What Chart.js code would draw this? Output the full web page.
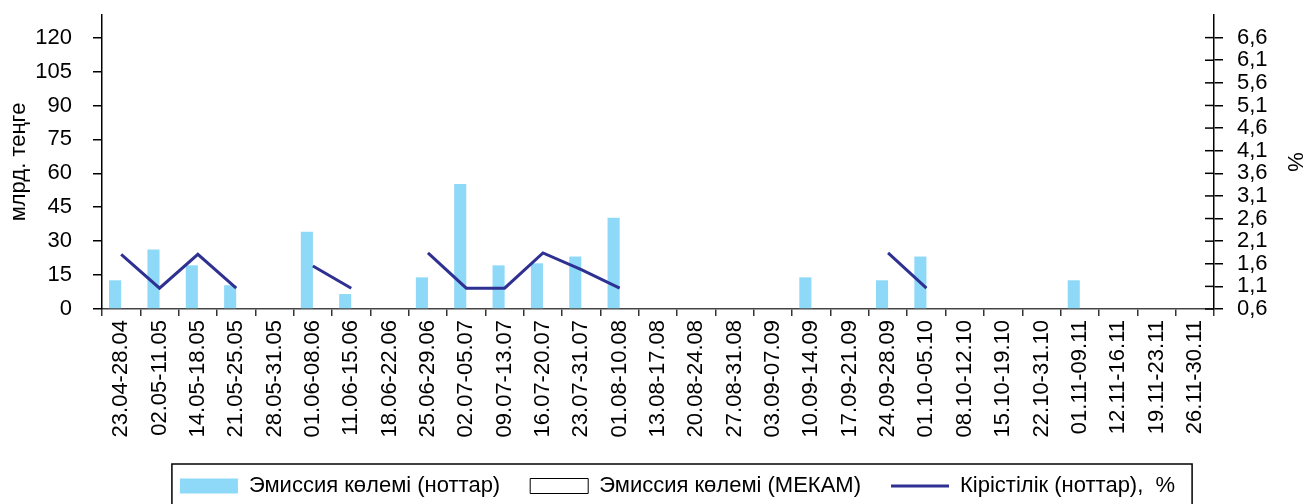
<!DOCTYPE html>
<html>
<head>
<meta charset="utf-8">
<script src="https://cdn.jsdelivr.net/npm/chart.js@4.4.0/dist/chart.umd.min.js"></script>
<style>
  html, body { margin: 0; padding: 0; background: #fff; }
  #wrap { width: 1307px; height: 504px; position: relative; }
</style>
</head>
<body>
<div id="wrap"><canvas id="emissionChart"></canvas></div>
<script>
// апталар
const categories = [
    '23.04-28.04', '02.05-11.05', '14.05-18.05', '21.05-25.05', '28.05-31.05',
    '01.06-08.06', '11.06-15.06', '18.06-22.06', '25.06-29.06', '02.07-05.07',
    '09.07-13.07', '16.07-20.07', '23.07-31.07', '01.08-10.08', '13.08-17.08',
    '20.08-24.08', '27.08-31.08', '03.09-07.09', '10.09-14.09', '17.09-21.09',
    '24.09-28.09', '01.10-05.10', '08.10-12.10', '15.10-19.10', '22.10-31.10',
    '01.11-09.11', '12.11-16.11', '19.11-23.11', '26.11-30.11'
];

// эмиссия көлемі, млрд. теңге
const notesVolume = [
    12.7, 26.3, 19.3, 10.5, null, 34.2, 6.6, null, 14.0, 55.3,
    19.3, 20.2, 23.2, 40.4, null, null, null, null, 14.0, null,
    12.7, 23.2, null, null, null, 12.7, null, null, null
];
const mekamVolume = [
    null, null, null, null, null, null, null, null, null, null,
    null, null, null, null, null, null, null, null, null, null,
    null, null, null, null, null, null, null, null, null
];

// кірістілік, %
const notesYield = [
    1.81, 1.06, 1.81, 1.06, null, 1.55, 1.06, null, 1.84, 1.06,
    1.06, 1.84, 1.47, 1.06, null, null, null, null, null, null,
    1.84, 1.06, null, null, null, null, null, null, null
];

const leftTicks = [0, 15, 30, 45, 60, 75, 90, 105, 120];
const rightTicks = [0.6, 1.1, 1.6, 2.1, 2.6, 3.1, 3.6, 4.1, 4.6, 5.1, 5.6, 6.1, 6.6];

Chart.defaults.font.family = '"Liberation Sans", Arial, sans-serif';
Chart.defaults.font.size = 22;
Chart.defaults.color = '#000';

// оң осьтің ішкі штрихтары және легенда жақтауы
const frameAndTicks = {
    id: 'frameAndTicks',
    afterLayout(chart) {
        // легенданы сәл оңға және төмен жылжыту
        const lg = chart.legend;
        lg.left += 24;
        lg.right += 24;
        lg.top += 3;
        lg.bottom += 3;
    },
    afterDraw(chart) {
        const ctx = chart.ctx;
        const y1 = chart.scales.y1;
        ctx.save();
        ctx.strokeStyle = '#000';
        ctx.lineWidth = 1.5;
        y1.ticks.forEach(t => {
            const py = y1.getPixelForValue(t.value);
            ctx.beginPath();
            ctx.moveTo(y1.left - 9, py);
            ctx.lineTo(y1.left, py);
            ctx.stroke();
        });
        const boxes = chart.legend.legendHitBoxes;
        if (boxes && boxes.length) {
            const first = boxes[0];
            const last = boxes[boxes.length - 1];
            const x0 = first.left - 8;
            const x1 = last.left + last.width + 17;
            const top = first.top - 11;
            ctx.strokeRect(x0, top, x1 - x0, chart.height - top + 5);
        }
        ctx.restore();
    }
};

// осьтің ені мен жоғарғы шегін бекіту
function fixVertical(width) {
    return function (scale) {
        scale.width = width;
        scale.paddingTop = 0;
        scale.paddingBottom = 0;
    };
}

const ctx = document.getElementById('emissionChart').getContext('2d');

new Chart(ctx, {
    type: 'bar',
    data: {
        labels: categories,
        datasets: [
            {
                label: 'Эмиссия көлемі (ноттар)',
                data: notesVolume,
                backgroundColor: '#8ED8F8',
                borderWidth: 0,
                yAxisID: 'y',
                categoryPercentage: 0.63,
                barPercentage: 1,
                order: 1
            },
            {
                label: 'Эмиссия көлемі (МЕКАМ)',
                data: mekamVolume,
                backgroundColor: '#fff',
                borderColor: '#000',
                borderWidth: 1,
                yAxisID: 'y',
                categoryPercentage: 0.63,
                barPercentage: 1,
                order: 1
            },
            {
                type: 'line',
                label: 'Кірістілік (ноттар),  %',
                data: notesYield,
                borderColor: '#2E3192',
                backgroundColor: '#2E3192',
                borderWidth: 3,
                pointRadius: 0,
                spanGaps: false,
                tension: 0,
                yAxisID: 'y1',
                order: 0
            }
        ]
    },
    options: {
        responsive: true,
        maintainAspectRatio: false,
        animation: false,
        layout: { padding: { top: 15 } },
        plugins: {
            tooltip: { enabled: false },
            legend: {
                position: 'bottom',
                labels: {
                    usePointStyle: true,
                    pointStyleWidth: 58,
                    boxHeight: 15,
                    padding: 30,
                    sort: (a, b) => a.datasetIndex - b.datasetIndex,
                    generateLabels(chart) {
                        const items = Chart.defaults.plugins.legend.labels.generateLabels(chart);
                        items.forEach(it => {
                            it.pointStyle = it.datasetIndex === 2 ? 'line' : 'rect';
                        });
                        return items;
                    }
                }
            }
        },
        scales: {
            x: {
                grid: { drawOnChartArea: false, offset: true, tickLength: 7, color: '#333', lineWidth: 1.5 },
                border: { color: '#444', width: 1.5 },
                ticks: { maxRotation: 90, minRotation: 90, autoSkip: false, padding: 4 },
                afterFit(scale) { scale.height = 133; }
            },
            y: {
                position: 'left',
                min: 0,
                max: 130,
                afterBuildTicks(scale) { scale.ticks = leftTicks.map(v => ({ value: v })); },
                grid: { drawOnChartArea: false, tickLength: 9, color: '#000', lineWidth: 1.5 },
                border: { color: '#000', width: 1.5 },
                ticks: { padding: 21, autoSkip: false },
                title: { display: true, text: 'млрд. теңге', padding: { top: 6, bottom: 0 } },
                afterFit: fixVertical(102)
            },
            y1: {
                position: 'right',
                min: 0.6,
                max: 7.1,
                afterBuildTicks(scale) { scale.ticks = rightTicks.map(v => ({ value: v })); },
                grid: { drawOnChartArea: false, tickLength: 9, color: '#000', lineWidth: 1.5 },
                border: { color: '#000', width: 1.5 },
                ticks: {
                    padding: 14,
                    autoSkip: false,
                    callback: v => v.toFixed(1).replace('.', ',')
                },
                title: { display: true, text: '%', padding: 0 },
                afterFit: fixVertical(93)
            }
        }
    },
    plugins: [frameAndTicks]
});
</script>
</body>
</html>
